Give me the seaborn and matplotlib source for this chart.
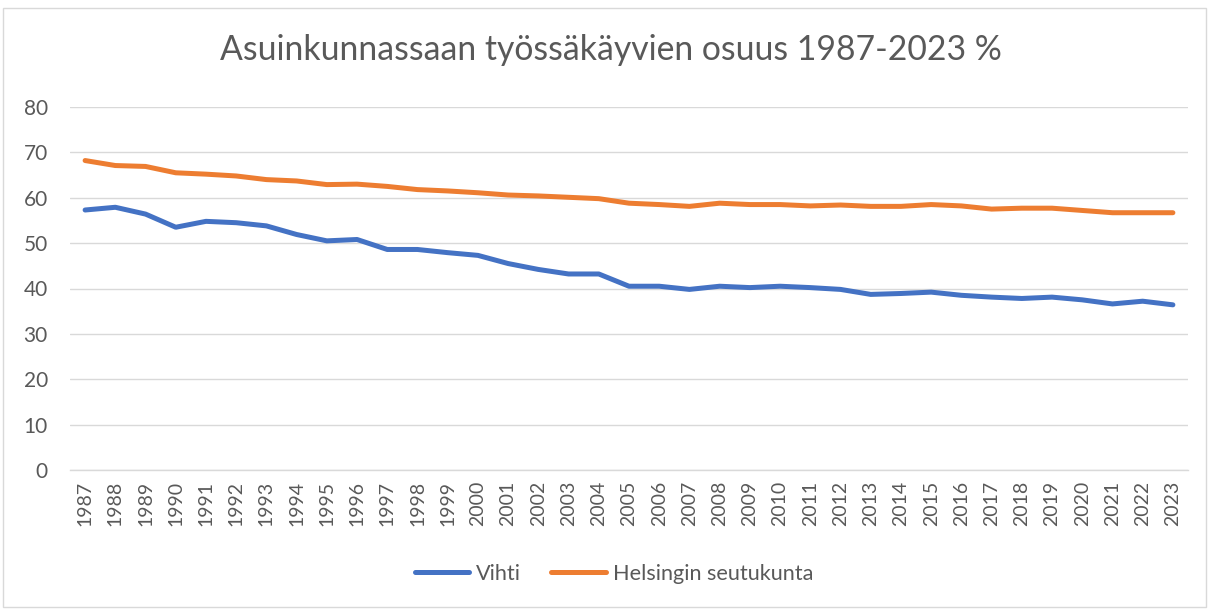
import matplotlib
matplotlib.use("Agg")
import matplotlib.pyplot as plt
import seaborn as sns
import pandas as pd
from matplotlib.patches import Rectangle
from matplotlib.lines import Line2D

years = [1987, 1988, 1989, 1990, 1991, 1992, 1993, 1994, 1995, 1996,
         1997, 1998, 1999, 2000, 2001, 2002, 2003, 2004, 2005, 2006,
         2007, 2008, 2009, 2010, 2011, 2012, 2013, 2014, 2015, 2016,
         2017, 2018, 2019, 2020, 2021, 2022, 2023]

vihti = [57.3, 57.9, 56.4, 53.5, 54.8, 54.5, 53.8, 51.9, 50.5, 50.8,
         48.6, 48.6, 47.9, 47.3, 45.5, 44.2, 43.2, 43.2, 40.5, 40.5,
         39.8, 40.5, 40.2, 40.5, 40.2, 39.8, 38.7, 38.9, 39.2, 38.5,
         38.1, 37.8, 38.1, 37.5, 36.6, 37.2, 36.4]

helsinki = [68.2, 67.1, 66.9, 65.5, 65.2, 64.8, 64.0, 63.7, 62.9, 63.0,
            62.5, 61.8, 61.5, 61.1, 60.6, 60.4, 60.1, 59.8, 58.8, 58.5,
            58.1, 58.8, 58.5, 58.5, 58.2, 58.4, 58.1, 58.1, 58.5, 58.2,
            57.5, 57.7, 57.7, 57.2, 56.7, 56.7, 56.7]

series_names = ["Vihti", "Helsingin seutukunta"]
colors = ["#4472C4", "#ED7D31"]
title = "Asuinkunnassaan työssäkäyvien osuus 1987-2023 %"
yticks = [0, 10, 20, 30, 40, 50, 60, 70, 80]

df = pd.DataFrame({
    "year": years * 2,
    "value": vihti + helsinki,
    "series": [series_names[0]] * len(years) + [series_names[1]] * len(years),
})

sns.set_theme(style="white")
plt.rcParams["font.family"] = ["Lato", "DejaVu Sans"]

fig = plt.figure(figsize=(12.11, 6.10), dpi=100)
ax = fig.add_axes([70 / 1211, 1 - 470 / 610, (1188 - 70) / 1211, (470 - 107) / 610])

sns.lineplot(data=df, x="year", y="value", hue="series", palette=colors,
             hue_order=series_names, linewidth=3.6, ax=ax, legend=False)
for ln in ax.lines:
    ln.set_solid_capstyle("round")
    ln.set_solid_joinstyle("round")

ax.set_xlim(years[0] - 0.5, years[-1] + 0.5)
ax.set_ylim(0, 80)
ax.set_yticks(yticks)
ax.set_xticks(years)
ax.set_xticklabels([str(y) for y in years], rotation=90)
ax.grid(axis="y", color="#D9D9D9", linewidth=1.0)
ax.set_axisbelow(True)
for s in ["top", "right", "left"]:
    ax.spines[s].set_visible(False)
ax.spines["bottom"].set_color("#D9D9D9")
ax.spines["bottom"].set_linewidth(1.0)
ax.tick_params(axis="both", length=0, colors="#595959")
ax.tick_params(axis="y", labelsize=15, pad=16)
ax.tick_params(axis="x", labelsize=14, pad=8)
ax.set_xlabel("")
ax.set_ylabel("")

fig.text(611 / 1211, 1 - 50 / 610, title, ha="center", va="center", fontsize=24.3, color="#595959")

handles = [Line2D([0], [0], color=c, linewidth=3.6, solid_capstyle="round") for c in colors]
leg = fig.legend(handles, series_names, loc="center", bbox_to_anchor=(614 / 1211, 1 - 574 / 610),
                 ncol=2, frameon=False, fontsize=15.6, handlelength=2.5, handletextpad=0.32,
                 columnspacing=1.4)
for t in leg.get_texts():
    t.set_color("#595959")

fig.patches.append(Rectangle((3 / 1211, 3 / 610), 1203 / 1211, 599 / 610, transform=fig.transFigure,
                             fill=False, edgecolor="#D9D9D9", linewidth=1.0))

fig.savefig("out.png", dpi=100, facecolor="white")
